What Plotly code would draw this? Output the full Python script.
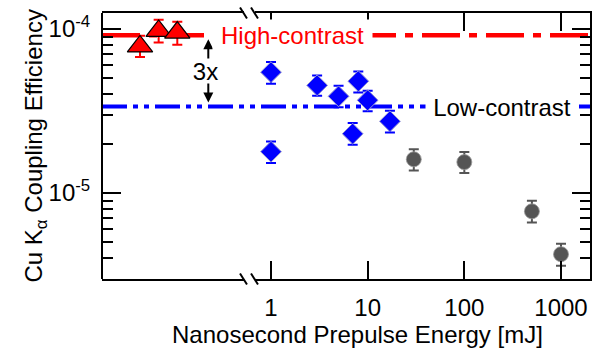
import numpy as np
import plotly.graph_objects as go

# ---------------- data ----------------
HC_SHOT = [1, 2, 3]                                  # high-contrast shots (no prepulse)
HC_EFF = [7.84e-5, 9.74e-5, 9.52e-5]
HC_ERR_PLUS = [1.26e-5, 1.66e-5, 1.58e-5]
HC_ERR_MINUS = [1.09e-5, 1.45e-5, 1.50e-5]

LC_ENERGY = [1, 1, 3, 5, 7, 8, 10, 17]               # mJ
LC_EFF = [5.46e-5, 1.787e-5, 4.54e-5, 3.89e-5, 2.30e-5, 4.81e-5, 3.68e-5, 2.74e-5]
LC_ERR_PLUS = [0.84e-5, 0.278e-5, 0.67e-5, 0.62e-5, 0.37e-5, 0.70e-5, 0.53e-5, 0.44e-5]
LC_ERR_MINUS = [0.82e-5, 0.263e-5, 0.62e-5, 0.55e-5, 0.33e-5, 0.70e-5, 0.53e-5, 0.40e-5]

HE_ENERGY = [30, 100, 500, 1000]                     # mJ
HE_EFF = [1.607e-5, 1.545e-5, 7.74e-6, 4.24e-6]
HE_ERR_PLUS = [0.246e-5, 0.233e-5, 1.23e-6, 0.67e-6]
HE_ERR_MINUS = [0.233e-5, 0.221e-5, 1.12e-6, 0.63e-6]

HIGH_LEVEL = 9.17e-5
LOW_LEVEL = 3.37e-5

X_TICKS = [1, 10, 100, 1000]
X_TICK_TEXT = ["1", "10", "100", "1000"]
Y_TICKS = [1e-5, 1e-4]
Y_TICK_TEXT = ["10<sup>-5</sup>", "10<sup>-4</sup>"]
Y_MINOR = [4e-6, 5e-6, 6e-6, 7e-6, 8e-6, 9e-6,
           2e-5, 3e-5, 4e-5, 5e-5, 6e-5, 7e-5, 8e-5, 9e-5]

# ---------------- layout geometry ----------------
W, H = 600, 356
ML, MR, MT, MB = 102, 10, 13, 77
PW = W - ML - MR
PH = H - MT - MB


def px(p):
    return (p - ML) / PW


def py(p):
    return (H - MB - p) / PH


FONT = "Liberation Sans, Arial, Helvetica, sans-serif"
LEFT_END = px(243.5)
RIGHT_START = px(254.5)
Y_RANGE = [-5.524, -3.902]

fig = go.Figure()

# reference levels (full-width overlay axis, drawn first so markers sit above)
fig.add_trace(go.Scatter(x=[0, 1], y=[HIGH_LEVEL, HIGH_LEVEL], mode="lines",
                         line=dict(color="#ff0000", width=4.5, dash="38px,9px,8px,9px"),
                         xaxis="x", yaxis="y", hoverinfo="skip", showlegend=False))
fig.add_trace(go.Scatter(x=[0, 1], y=[LOW_LEVEL, LOW_LEVEL], mode="lines",
                         line=dict(color="#0000ff", width=4, dash="25px,6px,5px,6px,5px,6px"),
                         xaxis="x", yaxis="y", hoverinfo="skip", showlegend=False))

# high-contrast triangles (left, broken segment)
fig.add_trace(go.Scatter(
    x=HC_SHOT, y=HC_EFF, mode="markers", xaxis="x2", yaxis="y",
    marker=dict(symbol="triangle-up", size=22, color="#ff0000",
                line=dict(color="black", width=1.2)),
    error_y=dict(type="data", array=HC_ERR_PLUS, arrayminus=HC_ERR_MINUS,
                 color="#ff0000", thickness=2, width=5),
    showlegend=False, cliponaxis=False))

# low-contrast diamonds
fig.add_trace(go.Scatter(
    x=LC_ENERGY, y=LC_EFF, mode="markers", xaxis="x3", yaxis="y",
    marker=dict(symbol="diamond", size=16, color="#0000ff",
                line=dict(color="#9a9ad0", width=1)),
    error_y=dict(type="data", array=LC_ERR_PLUS, arrayminus=LC_ERR_MINUS,
                 color="#0000ff", thickness=2, width=5),
    showlegend=False, cliponaxis=False))

# high-energy gray circles
fig.add_trace(go.Scatter(
    x=HE_ENERGY, y=HE_EFF, mode="markers", xaxis="x3", yaxis="y",
    marker=dict(symbol="circle", size=15, color="#555555",
                line=dict(color="#999999", width=0.8)),
    error_y=dict(type="data", array=HE_ERR_PLUS, arrayminus=HE_ERR_MINUS,
                 color="#555555", thickness=2, width=5),
    showlegend=False, cliponaxis=False))

# empty trace to draw the mirrored right y axis
fig.add_trace(go.Scatter(x=[], y=[], xaxis="x3", yaxis="y2", showlegend=False))

tickfont = dict(family=FONT, size=24, color="black")

fig.update_layout(
    width=W, height=H,
    margin=dict(l=ML, r=MR, t=MT, b=MB),
    paper_bgcolor="white", plot_bgcolor="rgba(0,0,0,0)",
    font=dict(family=FONT, size=24, color="black"),
    showlegend=False,
    xaxis=dict(domain=[0, 1], range=[0, 1], visible=False, anchor="y", fixedrange=True),
    xaxis2=dict(domain=[0, LEFT_END], range=[-1.0375, 6.55], anchor="y",
                showline=True, linecolor="black", linewidth=2, mirror=True,
                ticks="", showticklabels=False, showgrid=False, zeroline=False),
    xaxis3=dict(domain=[RIGHT_START, 1], type="log", range=[-0.1707, 3.300], anchor="y",
                showline=True, linecolor="black", linewidth=2, mirror="ticks",
                ticks="inside", ticklen=18, tickwidth=2, tickcolor="black",
                tickmode="array", tickvals=X_TICKS, ticktext=X_TICK_TEXT,
                tickfont=tickfont, ticklabelstandoff=6,
                showgrid=False, zeroline=False),
    yaxis=dict(domain=[0, 1], type="log", range=Y_RANGE, anchor="free", position=0,
               showline=True, linecolor="black", linewidth=2,
               ticks="inside", ticklen=18, tickwidth=2, tickcolor="black",
               tickmode="array", tickvals=Y_TICKS, ticktext=Y_TICK_TEXT,
               tickfont=tickfont, ticklabelstandoff=6,
               minor=dict(tickvals=Y_MINOR, ticks="inside", ticklen=10,
                          tickwidth=2, tickcolor="black", showgrid=False),
               showgrid=False, zeroline=False),
    yaxis2=dict(type="log", range=Y_RANGE, overlaying="y", side="right", anchor="x3",
                showline=True, linecolor="black", linewidth=2,
                ticks="inside", ticklen=18, tickwidth=2, tickcolor="black",
                tickmode="array", tickvals=Y_TICKS, showticklabels=False,
                minor=dict(tickvals=Y_MINOR, ticks="inside", ticklen=10,
                           tickwidth=2, tickcolor="black", showgrid=False),
                showgrid=False, zeroline=False),
)

# axis break marks (bottom and top)
for xc in (243.5, 254.5):
    for yc in (0, 1):
        fig.add_shape(type="line", xref="paper", yref="paper",
                      xsizemode="pixel", ysizemode="pixel",
                      xanchor=px(xc), yanchor=yc,
                      x0=-3.5, x1=3.5, y0=5.5, y1=-5.5,
                      line=dict(color="black", width=2))

mid_log = (np.log10(HIGH_LEVEL) + np.log10(LOW_LEVEL)) / 2

# double arrow for "3x"
fig.add_annotation(x=px(208.3), xref="paper", y=np.log10(HIGH_LEVEL), yref="y",
                   xanchor="center", text="", showarrow=True, ax=0, ay=36,
                   arrowhead=2, arrowsize=1, arrowwidth=2, arrowcolor="black", standoff=4)
fig.add_annotation(x=px(208.3), xref="paper", y=np.log10(LOW_LEVEL), yref="y",
                   xanchor="center", text="", showarrow=True, ax=0, ay=-36,
                   arrowhead=2, arrowsize=1, arrowwidth=2, arrowcolor="black", standoff=4)
fig.add_annotation(x=px(205.5), xref="paper", y=mid_log, yref="y",
                   xanchor="center", yanchor="middle",
                   text="3x", showarrow=False, bgcolor="white", borderpad=0,
                   width=27, height=24, font=dict(family=FONT, size=24, color="black"))

# labels on the reference lines (white box hides the line behind)
fig.add_annotation(x=px(292.5), xref="paper", y=np.log10(HIGH_LEVEL), yref="y",
                   xanchor="center", yanchor="middle",
                   text="High-contrast", showarrow=False, bgcolor="white",
                   borderpad=0, width=159, height=31,
                   font=dict(family=FONT, size=24, color="#ff0000"))
fig.add_annotation(x=px(502), xref="paper", y=np.log10(LOW_LEVEL), yref="y",
                   xanchor="center", yanchor="middle",
                   text="Low-contrast", showarrow=False, bgcolor="white",
                   borderpad=0, width=152, height=30,
                   font=dict(family=FONT, size=24, color="black"))

# axis titles
fig.add_annotation(x=px(357.5), xref="paper", y=py(334), yref="paper",
                   text="Nanosecond Prepulse Energy [mJ]", showarrow=False,
                   xanchor="center", yanchor="middle",
                   font=dict(family=FONT, size=24, color="black"))
fig.add_annotation(x=px(35), xref="paper", y=py(146.5), yref="paper",
                   text="Cu K<sub>α</sub> Coupling Efficiency", showarrow=False,
                   textangle=-90, xanchor="center", yanchor="middle",
                   font=dict(family=FONT, size=24, color="black"))

fig.write_html("out.html")
